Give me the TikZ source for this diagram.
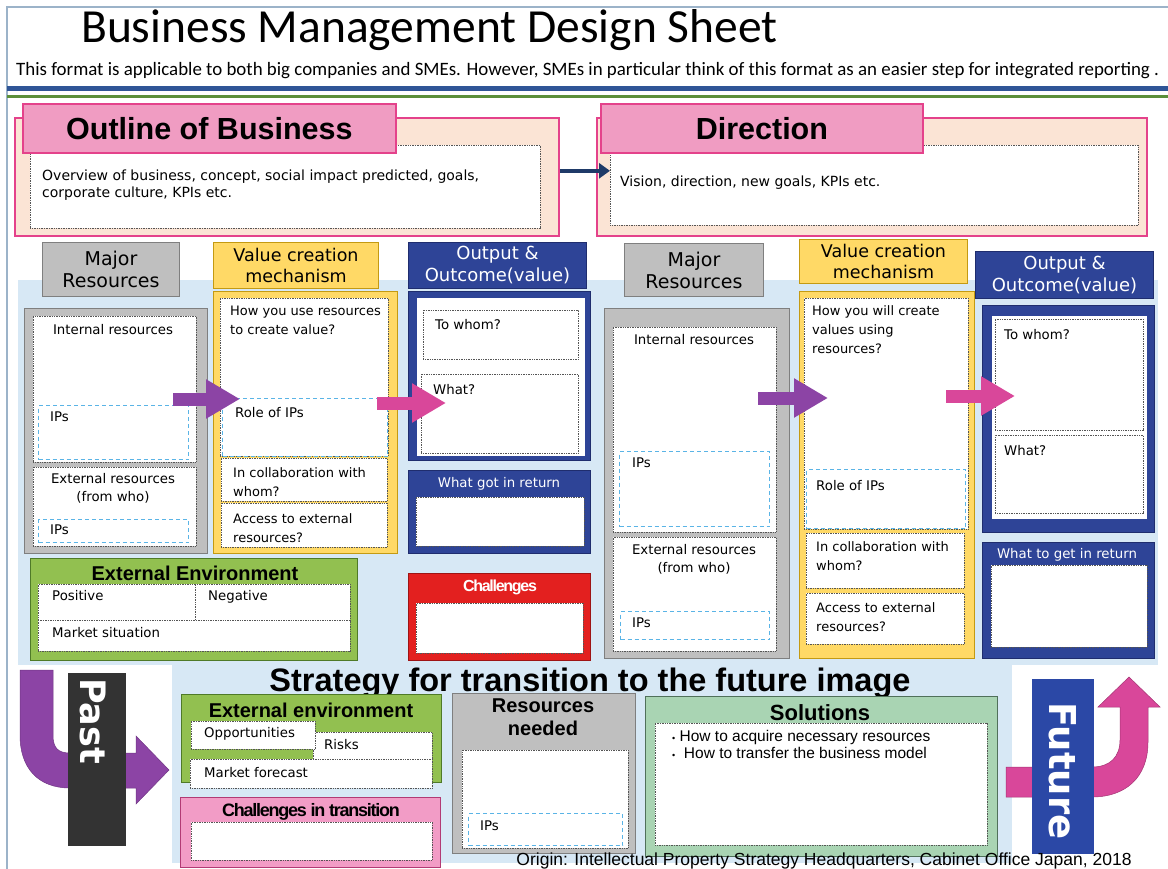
\documentclass[tikz,border=0pt]{standalone}
\usepackage{fontspec}
\setmainfont{DejaVu Sans}
\newfontfamily\carlito{Carlito}
\newfontfamily\arial{Liberation Sans}
\usetikzlibrary{arrows.meta,positioning}

\definecolor{framecol}{HTML}{9CB3C9}
\definecolor{rulblue}{HTML}{2F5597}
\definecolor{rulgreen}{HTML}{5B8F3A}
\definecolor{pinkhead}{HTML}{F09CC2}
\definecolor{pinkedge}{HTML}{E4428B}
\definecolor{peach}{HTML}{FBE4D5}
\definecolor{navy}{HTML}{1F3A68}
\definecolor{lightbg}{HTML}{D7E8F5}
\definecolor{resgray}{HTML}{BFBFBF}
\definecolor{resedge}{HTML}{7F7F7F}
\definecolor{valyellow}{HTML}{FFD966}
\definecolor{valedge}{HTML}{C49A12}
\definecolor{outblue}{HTML}{2E4497}
\definecolor{outedge}{HTML}{1F2D6E}
\definecolor{envgreen}{HTML}{92C050}
\definecolor{envedge}{HTML}{4F7A28}
\definecolor{chred}{HTML}{E3201F}
\definecolor{chedge}{HTML}{9E1414}
\definecolor{transpink}{HTML}{F29CC6}
\definecolor{transedge}{HTML}{B23A74}
\definecolor{solmint}{HTML}{A9D4B3}
\definecolor{soledge}{HTML}{50705A}
\definecolor{pastgray}{HTML}{333333}
\definecolor{futblue}{HTML}{2B48A6}
\definecolor{arrpurple}{HTML}{8C44A5}
\definecolor{arrpink}{HTML}{D9479A}
\definecolor{ipblue}{HTML}{5AB4E6}
\definecolor{memoedge}{HTML}{555555}

\tikzset{
  panel/.style={rectangle, inner sep=0pt, anchor=north west, line width=1pt},
  wh/.style 2 args={minimum width=#1pt, minimum height=#2pt},
  memo/.style={panel, fill=white, draw=memoedge, line width=0.7pt, dash pattern=on 1pt off 0.7pt},
  ipbox/.style={panel, draw=ipblue, line width=1.1pt, dash pattern=on 4pt off 3pt},
  note/.style={inner sep=0pt, anchor=north west, align=left, font=\fontsize{13.3}{19}\selectfont},
  headtxt/.style={align=center, font=\fontsize{19}{22}\selectfont},
  bighead/.style={font=\arial\bfseries\fontsize{30.5}{32}\selectfont},
  boldhead/.style={inner sep=0pt, font=\arial\bfseries\fontsize{20}{23}\selectfont},
  blockarrow/.style={line width=13pt, -{Triangle[length=34pt,width=37pt]}},
}

\begin{document}
\begin{tikzpicture}[x=1pt, y=-1pt]
\useasboundingbox (0,0) rectangle (1168,869);

% sheet frame and rules
\fill[lightbg] (18,280) rectangle (1158,665);
\fill[lightbg] (172,665) rectangle (1012,863);
\draw[framecol, line width=1.2pt] (7,900) -- (7,7) -- (1200,7);
\node[anchor=base west, inner sep=0pt, font=\carlito\fontsize{47.5}{50}\selectfont] (title) at (81,43) {Business Management Design Sheet};
\node[anchor=base west, inner sep=0pt, font=\carlito\fontsize{18.9}{20}\selectfont] (subtitle) at (16,76) {This format is applicable to both big companies and SMEs. However, SMEs in particular think of this format as an easier step for integrated reporting .};
\draw[rulblue, line width=5pt] (7,89) -- (1168,89);
\draw[rulgreen, line width=2.5pt] (7,96.5) -- (1168,96.5);

% outline and direction
\node[panel, wh={544}{118}, fill=peach, draw=pinkedge, line width=1.6pt] (outline) at (14,117) {};
\node[memo, wh={510}{83}] (outinner) at (30,145) {};
\node[panel, wh={373}{49}, fill=pinkhead, draw=pinkedge, line width=1.8pt, bighead] (outhead) at (22,103) {Outline of Business};
\node[note, font=\fontsize{14}{17}\selectfont] (outtext) at (42,170) {Overview of business, concept, social impact predicted, goals,\\corporate culture, KPIs etc.};

\node[panel, wh={550}{118}, fill=peach, draw=pinkedge, line width=1.6pt] (direction) at (596,117) {};
\node[memo, wh={528}{80}] (dirinner) at (610,145) {};
\node[panel, wh={322}{49}, fill=pinkhead, draw=pinkedge, line width=1.8pt, bighead] (dirhead) at (600,103) {Direction};
\node[note, font=\fontsize{14}{17}\selectfont] (dirtext) at (620,176) {Vision, direction, new goals, KPIs etc.};

\draw[navy, line width=4pt, -{Triangle[length=11pt,width=15pt]}] ([yshift=6pt]outline.east) -- ([yshift=6pt]outline.east -| dirinner.west);

% current state: major resources
\node[panel, wh={137}{54}, fill=resgray, draw=resedge, headtxt] (majhd) at (42,242) {Major\\Resources};
\node[panel, wh={183}{245}, fill=resgray, draw=resedge, line width=1.4pt] (majcol) at (24,308) {};
\node[memo, wh={163}{146}] (inres) at (33,316) {};
\node[ipbox, wh={150}{54}] (inip) at (38,405) {};
\node[memo, wh={163}{79}] (exres) at (33,467) {};
\node[ipbox, wh={150}{23}] (exip) at (38,519) {};
\node[note, anchor=north] (inrestxt) at (113,324) {Internal resources};
\node[note] (iniptxt) at (50,412) {IPs};
\node[note, anchor=north, align=center, font=\fontsize{13.3}{18}\selectfont] (exrestxt) at (113,473) {External resources\\(from who)};
\node[note] (exiptxt) at (50,525) {IPs};

% current state: value creation
\node[panel, wh={165}{46}, fill=valyellow, draw=valedge, align=center, font=\fontsize{17.5}{21}\selectfont] (valhd) at (213,242) {Value creation\\mechanism};
\node[panel, wh={184}{262}, fill=valyellow, draw=valedge, line width=1.4pt] (valcol) at (213,291) {};
\node[memo, wh={168}{158}] (valtop) at (220,298) {};
\node[ipbox, wh={165}{58}] (valip) at (222,398) {};
\node[memo, wh={166}{43}] (valpart) at (221,458) {};
\node[memo, wh={166}{44}] (valacc) at (221,503) {};
\node[note, font=\fontsize{13}{19}\selectfont] (valtoptxt) at (230,306) {How you use resources\\to create value?};
\node[note] (valiptxt) at (235,407) {Role of IPs};
\node[note, font=\fontsize{13}{19}\selectfont] (valparttxt) at (233,467) {In collaboration with\\whom?};
\node[note, font=\fontsize{13}{19}\selectfont] (valacctxt) at (233,513) {Access to external\\resources?};

% current state: output
\node[panel, wh={178}{46}, fill=outblue, draw=outedge, text=white, align=center, font=\fontsize{18}{22}\selectfont] (outhd) at (408,242) {Output \&\\Outcome(value)};
\node[panel, wh={182}{169}, fill=outblue, draw=outedge, line width=1.4pt] (outcol) at (408,291) {};
\node[panel, wh={168}{157}, fill=white] (outwhite) at (416,298) {};
\node[memo, wh={155}{49}] (towhom) at (423,310) {};
\node[memo, wh={157}{79}] (what) at (421,374) {};
\node[note] (towhomtxt) at (435,319) {To whom?};
\node[note] (whattxt) at (433,384) {What?};
\node[panel, wh={182}{83}, fill=outblue, draw=outedge, line width=1.4pt] (gotret) at (408,470) {};
\node[memo, wh={168}{49}] (gotin) at (416,497) {};
\node[note, anchor=north, text=white] (gotrettxt) at (499,477) {What got in return};

% current state: environment and challenges
\node[panel, wh={327}{102}, fill=envgreen, draw=envedge, line width=1.4pt] (extenv) at (30,558) {};
\node[memo, wh={157}{36}] (positive) at (38,584) {};
\node[memo, wh={155}{36}] (negative) at (195,584) {};
\node[memo, wh={312}{31}] (market) at (38,620) {};
\node[boldhead, anchor=center] (extenvtxt) at (195,573) {External Environment};
\node[note] (positivetxt) at (52,590) {Positive};
\node[note] (negativetxt) at (208,590) {Negative};
\node[note] (markettxt) at (52,627) {Market situation};
\node[panel, wh={182}{87}, fill=chred, draw=chedge, line width=1.4pt] (challenges) at (408,573) {};
\node[memo, wh={167}{50}] (chin) at (416,603) {};
\node[inner sep=0pt, text=white, font=\arial\bfseries\fontsize{16}{18}\selectfont\addfontfeature{LetterSpace=-8}] (chtxt) at (500,587) {Challenges};

% future state: major resources
\node[panel, wh={139}{53}, fill=resgray, draw=resedge, headtxt] (majhdf) at (624,243) {Major\\Resources};
\node[panel, wh={185}{350}, fill=resgray, draw=resedge, line width=1.4pt] (majcolf) at (604,308) {};
\node[memo, wh={163}{205}] (inresf) at (613,327) {};
\node[ipbox, wh={150}{75}] (inipf) at (619,451) {};
\node[memo, wh={163}{114}] (exresf) at (613,537) {};
\node[ipbox, wh={149}{28}] (exipf) at (620,611) {};
\node[note, anchor=north] (inrestxtf) at (694,334) {Internal resources};
\node[note] (iniptxtf) at (632,458) {IPs};
\node[note, anchor=north, align=center, font=\fontsize{13.3}{18}\selectfont] (exrestxtf) at (694,544) {External resources\\(from who)};
\node[note] (exiptxtf) at (632,618) {IPs};

% future state: value creation
\node[panel, wh={168}{44}, fill=valyellow, draw=valedge, align=center, font=\fontsize{17.5}{21}\selectfont] (valhdf) at (799,239) {Value creation\\mechanism};
\node[panel, wh={175}{367}, fill=valyellow, draw=valedge, line width=1.4pt] (valcolf) at (799,291) {};
\node[memo, wh={164}{231}] (valtopf) at (804,298) {};
\node[ipbox, wh={159}{59}] (valipf) at (806,469) {};
\node[memo, wh={158}{55}] (valpartf) at (806,533) {};
\node[memo, wh={158}{51}] (valaccf) at (806,593) {};
\node[note, font=\fontsize{13}{19}\selectfont] (valtoptxtf) at (812,305) {How you will create\\values using\\resources?};
\node[note] (valiptxtf) at (816,480) {Role of IPs};
\node[note, font=\fontsize{13}{19}\selectfont] (valparttxtf) at (816,541) {In collaboration with\\whom?};
\node[note, font=\fontsize{13}{19}\selectfont] (valacctxtf) at (816,602) {Access to external\\resources?};

% future state: output
\node[panel, wh={178}{47}, fill=outblue, draw=outedge, text=white, align=center, font=\fontsize{18}{22}\selectfont] (outhdf) at (975,251) {Output \&\\Outcome(value)};
\node[panel, wh={172}{227}, fill=outblue, draw=outedge, line width=1.4pt] (outcolf) at (982,305) {};
\node[panel, wh={155}{203}, fill=white] (outwhitef) at (991,315) {};
\node[memo, wh={148}{111}] (towhomf) at (995,319) {};
\node[memo, wh={148}{78}] (whatf) at (995,435) {};
\node[note] (towhomtxtf) at (1004,329) {To whom?};
\node[note] (whattxtf) at (1004,445) {What?};
\node[panel, wh={172}{116}, fill=outblue, draw=outedge, line width=1.4pt] (getret) at (982,542) {};
\node[memo, wh={156}{82}] (getin) at (991,565) {};
\node[note, anchor=north, text=white] (getrettxt) at (1067,548) {What to get in return};

% block arrows between columns
\coordinate (pa0) at (173,399);
\coordinate (pa1) at (240,399);
\coordinate (pb0) at (377,403);
\coordinate (pb1) at (446,403);
\coordinate (pc0) at (758,398);
\coordinate (pc1) at (828,398);
\coordinate (pd0) at (946,396);
\coordinate (pd1) at (1015,396);
\draw[arrpurple, blockarrow] (pa0) -- (pa1);
\draw[arrpink, blockarrow] (pb0) -- (pb1);
\draw[arrpurple, blockarrow] (pc0) -- (pc1);
\draw[arrpink, blockarrow] (pd0) -- (pd1);

% strategy for transition
\node[inner sep=0pt, font=\arial\bfseries\fontsize{32.5}{34}\selectfont] (stratitle) at (590,683) {Strategy for transition to the future image};

\fill[arrpurple, draw=arrpurple!80!black, line width=0.5pt] (20,670) -- (20,735) .. controls (20,768) and (38,788) .. (70,788) -- (136,788) -- (136,804) -- (169,770) -- (136,736) -- (136,753) -- (70,753) .. controls (58,753) and (53,748) .. (53,735) -- (53,670) -- cycle;
\node[panel, wh={58}{173}, fill=pastgray] (past) at (67,672) {};
\node[rotate=-90, anchor=west, inner sep=0pt, text=white, font=\bfseries\fontsize{35}{36}\selectfont] (pasttxt) at ([xshift=-3pt, yshift=-6pt]past.north) {Past};

\fill[arrpink, draw=arrpink!75!black, line width=0.5pt] (1006,767) -- (1092,767) .. controls (1110,767) and (1120,757) .. (1120,740) -- (1120,707) -- (1098,707) -- (1129,677) -- (1160,707) -- (1148,707) -- (1148,742) .. controls (1148,778) and (1125,797) .. (1092,797) -- (1006,797) -- cycle;
\node[panel, wh={62}{175}, fill=futblue] (future) at (1031,678) {};
\node[rotate=-90, inner sep=0pt, text=white, font=\bfseries\fontsize{37}{38}\selectfont] (futuretxt) at ([yshift=-5pt]future.center) {Future};

\node[panel, wh={260}{88}, fill=envgreen, draw=envedge, line width=1.4pt] (extenvf) at (181,694) {};
\node[boldhead, anchor=center] (extenvftxt) at (311,710) {External environment};
\node[memo, wh={119}{27}] (risks) at (313,732) {};
\node[memo, wh={124}{28}] (opport) at (191,721) {};
\node[memo, wh={242}{29}] (forecast) at (190,759) {};
\node[note] (opporttxt) at (204,727) {Opportunities};
\node[note] (riskstxt) at (324,739) {Risks};
\node[note] (forecasttxt) at (204,767) {Market forecast};

\node[panel, wh={260}{70}, fill=transpink, draw=transedge, line width=1.4pt] (chtrans) at (180,797) {};
\node[memo, wh={241}{38}] (chtransin) at (191,822) {};
\node[inner sep=0pt, font=\arial\bfseries\fontsize{18}{20}\selectfont\addfontfeature{LetterSpace=-7}] (chtranstxt) at (311,812) {Challenges in transition};

\node[panel, wh={183}{160}, fill=resgray, draw=resedge, line width=1.4pt] (resneed) at (452,693) {};
\node[memo, wh={166}{98}] (resneedin) at (462,750) {};
\node[ipbox, wh={154}{32}] (resneedip) at (468,813) {};
\node[boldhead, align=center, anchor=north] (resneedtxt) at (543,699) {Resources\\needed};
\node[note] (resneediptxt) at (480,821) {IPs};

\node[panel, wh={352}{160}, fill=solmint, draw=soledge, line width=1.4pt] (solutions) at (645,696) {};
\node[memo, wh={332}{122}] (solin) at (655,723) {};
\node[boldhead, font=\arial\bfseries\fontsize{22}{24}\selectfont] (soltxt) at (820,713) {Solutions};
\node[note, font=\arial\fontsize{15.5}{17}\selectfont] (solnote) at (672,730) {{\fontsize{9}{9}\selectfont\textbullet}\ How to acquire necessary resources\\{\fontsize{9}{9}\selectfont\textbullet}\ \ How to transfer the business model};

\node[anchor=base, inner sep=0pt, font=\arial\fontsize{17.5}{19}\selectfont] (origin) at (824,865) {Origin: Intellectual Property Strategy Headquarters, Cabinet Office Japan, 2018};
\end{tikzpicture}
\end{document}
